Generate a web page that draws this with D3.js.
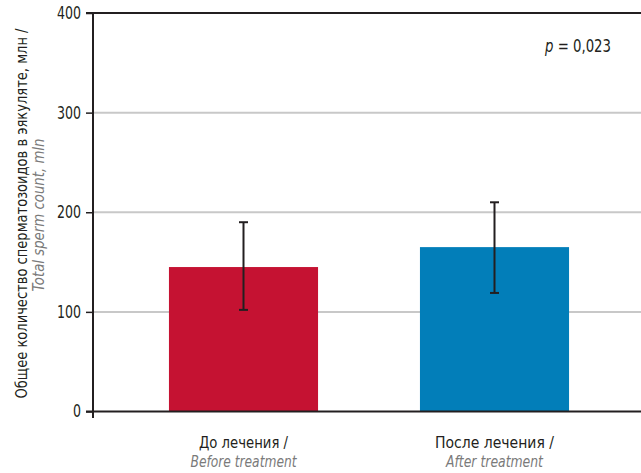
<!DOCTYPE html>
<html>
<head>
<meta charset="utf-8">
<script src="https://cdn.jsdelivr.net/npm/d3@7"></script>
<style>
  html, body { margin: 0; padding: 0; background: #fff; }
  svg { display: block; font-family: "Liberation Sans Narrow", "DejaVu Sans Condensed", "Roboto", sans-serif; }
</style>
</head>
<body>
<svg id="chart" width="641" height="473"></svg>
<script>
// Categories (Russian / English) and summary values
const categoriesRu = ["До лечения /", "После лечения /"];
const categoriesEn = ["Before treatment", "After treatment"];
const means = [145, 165];
const errLow = [102, 119];
const errHigh = [190, 210];
const barColors = ["#c51232", "#027eb9"];
const yTicks = [0, 100, 200, 300, 400];
const pLabel = "0,023";

const svg = d3.select("#chart");
const W = 641;
const x0 = 93, yBottom = 411.5, yTop = 13;
const ink = "#231f20", grey = "#7a7a7a";

const y = d3.scaleLinear().domain([0, 400]).range([yBottom, yTop]);
const x = d3.scaleBand()
  .domain(categoriesRu)
  .range([118, 620])
  .paddingInner(0.406)
  .paddingOuter(0.203);

// Gridlines
svg.append("g")
  .selectAll("line")
  .data(yTicks.filter(t => t > 0 && t < 400))
  .join("line")
  .attr("x1", x0).attr("x2", W)
  .attr("y1", d => y(d)).attr("y2", d => y(d))
  .attr("stroke", "#c8c8c8").attr("stroke-width", 2);

// Bars
svg.append("g")
  .selectAll("rect")
  .data(means)
  .join("rect")
  .attr("x", (d, i) => x(categoriesRu[i]))
  .attr("width", x.bandwidth())
  .attr("y", d => y(d))
  .attr("height", d => y(0) - y(d))
  .attr("fill", (d, i) => barColors[i]);

// Error bars
const eb = svg.append("g").attr("stroke", ink).attr("stroke-width", 2);
means.forEach((m, i) => {
  const cx = x(categoriesRu[i]) + x.bandwidth() / 2;
  eb.append("line").attr("x1", cx).attr("x2", cx).attr("y1", y(errHigh[i])).attr("y2", y(errLow[i]));
  eb.append("line").attr("x1", cx - 4.5).attr("x2", cx + 4.5).attr("y1", y(errHigh[i])).attr("y2", y(errHigh[i]));
  eb.append("line").attr("x1", cx - 4.5).attr("x2", cx + 4.5).attr("y1", y(errLow[i])).attr("y2", y(errLow[i]));
});

// Top and bottom frame lines
[400, 0].forEach(v => {
  svg.append("line").attr("x1", 86).attr("x2", W).attr("y1", y(v)).attr("y2", y(v))
    .attr("stroke", ink).attr("stroke-width", 2);
});

// Y axis
const yAxis = svg.append("g")
  .attr("transform", `translate(${x0},0)`)
  .call(d3.axisLeft(y).tickValues(yTicks).tickSize(7).tickPadding(5).tickFormat(d3.format("d")));
yAxis.select(".domain").remove();
yAxis.selectAll(".tick line").attr("stroke", ink).attr("stroke-width", 1.5);
yAxis.selectAll(".tick text")
  .attr("font-size", 17).attr("fill", ink)
  .attr("font-family", "Liberation Sans Narrow, DejaVu Sans Condensed, sans-serif")
  .attr("textLength", d => String(d).length * 8)
  .attr("lengthAdjust", "spacingAndGlyphs");
svg.append("line").attr("x1", x0).attr("x2", x0).attr("y1", y(400)).attr("y2", 418)
  .attr("stroke", ink).attr("stroke-width", 2);

// Y axis title
const yTitle = svg.append("g").attr("transform", "translate(0,213.5) rotate(-90)");
yTitle.append("text").attr("x", 0).attr("y", 27).attr("text-anchor", "middle")
  .attr("font-size", 16.5).attr("fill", ink)
  .attr("textLength", 370).attr("lengthAdjust", "spacingAndGlyphs")
  .text("Общее количество сперматозоидов в эякуляте, млн /");
yTitle.append("text").attr("x", -1.5).attr("y", 44).attr("text-anchor", "middle")
  .attr("font-size", 16.5).attr("font-style", "italic").attr("fill", grey)
  .attr("textLength", 153).attr("lengthAdjust", "spacingAndGlyphs")
  .text("Total sperm count, mln");

// Category labels
const ruWidths = [89, 119];
const enWidths = [106, 97];
const cl = svg.append("g");
categoriesRu.forEach((c, i) => {
  const cx = x(c) + x.bandwidth() / 2;
  cl.append("text").attr("x", cx).attr("y", 447.5).attr("text-anchor", "middle")
    .attr("font-size", 16.5).attr("fill", ink)
    .attr("textLength", ruWidths[i]).attr("lengthAdjust", "spacingAndGlyphs").text(c);
  cl.append("text").attr("x", cx).attr("y", 466.5).attr("text-anchor", "middle")
    .attr("font-size", 16.5).attr("font-style", "italic").attr("fill", grey)
    .attr("textLength", enWidths[i]).attr("lengthAdjust", "spacingAndGlyphs").text(categoriesEn[i]);
});

// p-value annotation
const pt = svg.append("text").attr("x", 545).attr("y", 52).attr("text-anchor", "start")
  .attr("font-size", 17).attr("fill", ink)
  .attr("textLength", 66).attr("lengthAdjust", "spacingAndGlyphs");
pt.append("tspan").attr("font-style", "italic").text("p");
pt.append("tspan").text(" = " + pLabel);
</script>
</body>
</html>
